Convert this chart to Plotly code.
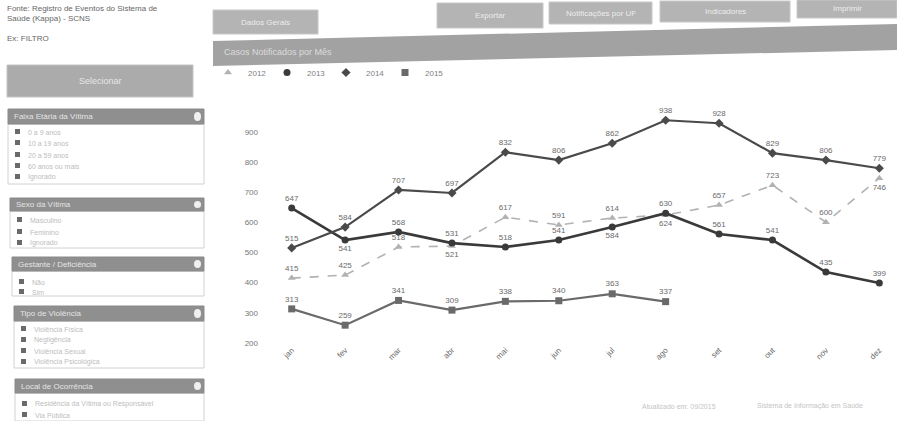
import plotly.graph_objects as go

# ---- chart data -------------------------------------------------------------
months = ["jan", "fev", "mar", "abr", "mai", "jun", "jul", "ago", "set", "out", "nov", "dez"]
years = ["2012", "2013", "2014", "2015"]

casos_2012 = [415, 425, 518, 521, 617, 591, 614, 624, 657, 723, 600, 746]
casos_2013 = [647, 541, 568, 531, 518, 541, 584, 630, 561, 541, 435, 399]
casos_2014 = [515, 584, 707, 697, 832, 806, 862, 938, 928, 829, 806, 779]
casos_2015 = [313, 259, 341, 309, 338, 340, 363, 337]

y_ticks = [200, 300, 400, 500, 600, 700, 800, 900]

# ---- sidebar / page texts ---------------------------------------------------
fonte_lines = ["Fonte: Registro de Eventos do Sistema de", "Saúde (Kappa) - SCNS"]
filtro_txt = "Ex: FILTRO"
botao_txt = "Selecionar"
top_buttons = ["Dados Gerais", "Exportar", "Notificações por UF", "Indicadores", "Imprimir"]
chart_title = "Casos Notificados por Mês"
panels = [
    ("Faixa Etária da Vítima", ["0 a 9 anos", "10 a 19 anos", "20 a 59 anos", "60 anos ou mais", "Ignorado"]),
    ("Sexo da Vítima", ["Masculino", "Feminino", "Ignorado"]),
    ("Gestante / Deficiência", ["Não", "Sim"]),
    ("Tipo de Violência", ["Violência Física", "Negligência", "Violência Sexual", "Violência Psicológica"]),
    ("Local de Ocorrência", ["Residência da Vítima ou Responsável", "Via Pública"]),
]
footer_texts = ["Atualizado em: 09/2015", "Sistema de Informação em Saúde"]

# ---- page geometry (pixels) ------------------------------------------------
W, H = 897, 421
ML, MR, MT, MB = 265, 7, 113, 78
PW, PH = W - ML - MR, H - MT - MB


def fx(x):
    return (x - ML) / PW


def fy(y):
    return (H - MB - y) / PH


shapes = []
annotations = []


def rect(x0, y0, x1, y1, fill, line=None, width=0):
    shapes.append(dict(type="rect", xref="paper", yref="paper", layer="below",
                       x0=fx(x0), x1=fx(x1), y0=fy(y1), y1=fy(y0),
                       fillcolor=fill, line=dict(color=line or fill, width=width)))


def label(x, y, s, size=8, color="#555", anchor="left"):
    annotations.append(dict(xref="paper", yref="paper", x=fx(x), y=fy(y), text=s,
                            showarrow=False, xanchor=anchor, yanchor="middle",
                            font=dict(size=size, color=color)))


# header texts on the left
label(5, 9, fonte_lines[0], 8, "#666")
label(5, 19, fonte_lines[1], 8, "#666")
label(5, 38, filtro_txt, 8, "#666")

# big gray button
shapes.append(dict(type="rect", xref="paper", yref="paper", layer="below",
                   x0=fx(7), x1=fx(193), y0=fy(97), y1=fy(65),
                   fillcolor="#ababab", line=dict(color="#c4c4c4", width=1)))
label(100, 81, botao_txt, 9, "#e6e6e6", "center")

# filter panels
panel_layout = [
    (8, 109, 124, 184, [132, 143, 155, 166, 177]),
    (10, 198, 211, 248, [220, 232, 243]),
    (12, 257, 271, 296, [282, 292]),
    (14, 306, 321, 368, [329, 340, 351, 362]),
    (15, 379, 393, 421, [404, 415]),
]
for (title, rows), (x0, hy0, hy1, by1, rys) in zip(panels, panel_layout):
    rect(x0, hy1, 204, by1, "#ffffff", "#d2d2d2", 1)
    rect(x0, hy0, 204, hy1, "#8f8f8f", "#8a8a8a", 1)
    label(x0 + 4, (hy0 + hy1) / 2, title, 8, "#e4e4e4")
    shapes.append(dict(type="circle", xref="paper", yref="paper", layer="below",
                       x0=fx(194), x1=fx(201), y0=fy(hy1 - 3), y1=fy(hy0 + 3),
                       fillcolor="#f0f0f0", line=dict(color="#f0f0f0", width=0)))
    for r, ry in zip(rows, rys):
        rect(x0 + 7, ry - 3, x0 + 12, ry + 2, "#6a6a6a")
        label(x0 + 18, ry, r, 7, "#bdbdbd")

# buttons along the top
btn_boxes = [(213, 10, 318, 34), (437, 3, 543, 28), (549, 2, 652, 24),
             (660, 1, 790, 22), (797, 0, 897, 18)]
for txt, (x0, y0, x1, y1) in zip(top_buttons, btn_boxes):
    rect(x0, y0, x1, y1, "#b4b4b4", "#c8c8c8", 1)
    label((x0 + x1) / 2, (y0 + y1) / 2, txt, 8, "#ececec", "center")

# chart title strip
shapes.append(dict(type="path", xref="paper", yref="paper", layer="below",
                   path=(f"M {fx(213)} {fy(41)} L {fx(897)} {fy(24)} "
                         f"L {fx(897)} {fy(50)} L {fx(213)} {fy(66)} Z"),
                   fillcolor="#a2a2a2", line=dict(color="#a2a2a2", width=0)))
label(222, 52, chart_title, 9, "#dcdcdc")

# footer
label(640, 406, footer_texts[0], 7, "#c4c4c4")
label(755, 406, footer_texts[1], 7, "#c4c4c4")

# ---- series -----------------------------------------------------------------
fig = go.Figure()

# value labels sit above the points, except where two series meet
pos_2012 = ["top center"] * 12
for i in (3, 7, 11):
    pos_2012[i] = "bottom center"
pos_2013 = ["top center"] * 12
for i in (1, 6):
    pos_2013[i] = "bottom center"
pos_2014 = ["top center"] * 12
pos_2015 = ["top center"] * 8

series = [
    (years[0], casos_2012, pos_2012, "#b2b2b2", "dash", 1.6, "triangle-up"),
    (years[1], casos_2013, pos_2013, "#3a3a3a", "solid", 2.6, "circle"),
    (years[2], casos_2014, pos_2014, "#4a4a4a", "solid", 2.2, "diamond"),
    (years[3], casos_2015, pos_2015, "#6a6a6a", "solid", 2.2, "square"),
]
for name, vals, pos, color, dash, width, symbol in series:
    fig.add_trace(go.Scatter(
        x=months[:len(vals)], y=vals, name=name, showlegend=False,
        mode="lines+markers+text",
        line=dict(color=color, width=width, dash=dash),
        marker=dict(color=color, size=7, symbol=symbol),
        text=[str(v) for v in vals], textposition=pos,
        textfont=dict(size=8, color="#6a6a6a"),
        cliponaxis=False,
    ))
# compact legend entries: marker only
for name, vals, pos, color, dash, width, symbol in series:
    fig.add_trace(go.Scatter(
        x=[None], y=[None], name=name, mode="markers",
        marker=dict(color=color, size=7, symbol=symbol),
    ))

fig.update_layout(
    width=W, height=H,
    margin=dict(l=ML, r=MR, t=MT, b=MB),
    paper_bgcolor="#ffffff", plot_bgcolor="#ffffff",
    font=dict(family="Liberation Sans, Arial, sans-serif", size=8, color="#666"),
    showlegend=True,
    legend=dict(orientation="h", xref="container", yref="container",
                x=208 / W, y=1 - 58 / H, xanchor="left", yanchor="top",
                font=dict(size=8, color="#808080"), itemwidth=30,
                entrywidth=14, entrywidthmode="pixels",
                bgcolor="rgba(0,0,0,0)"),
    xaxis=dict(type="category", categoryorder="array", categoryarray=months,
               range=[-0.5, 11.2], tickangle=-45, showgrid=False, showline=False,
               zeroline=False, ticks="", tickfont=dict(size=8, color="#666")),
    yaxis=dict(range=[200, 962], tickvals=y_ticks, showgrid=False, showline=False,
               zeroline=False, ticks="", tickfont=dict(size=8, color="#777"),
               ticklabelstandoff=6),
    shapes=shapes,
    annotations=annotations,
)

fig.write_html("out.html")
